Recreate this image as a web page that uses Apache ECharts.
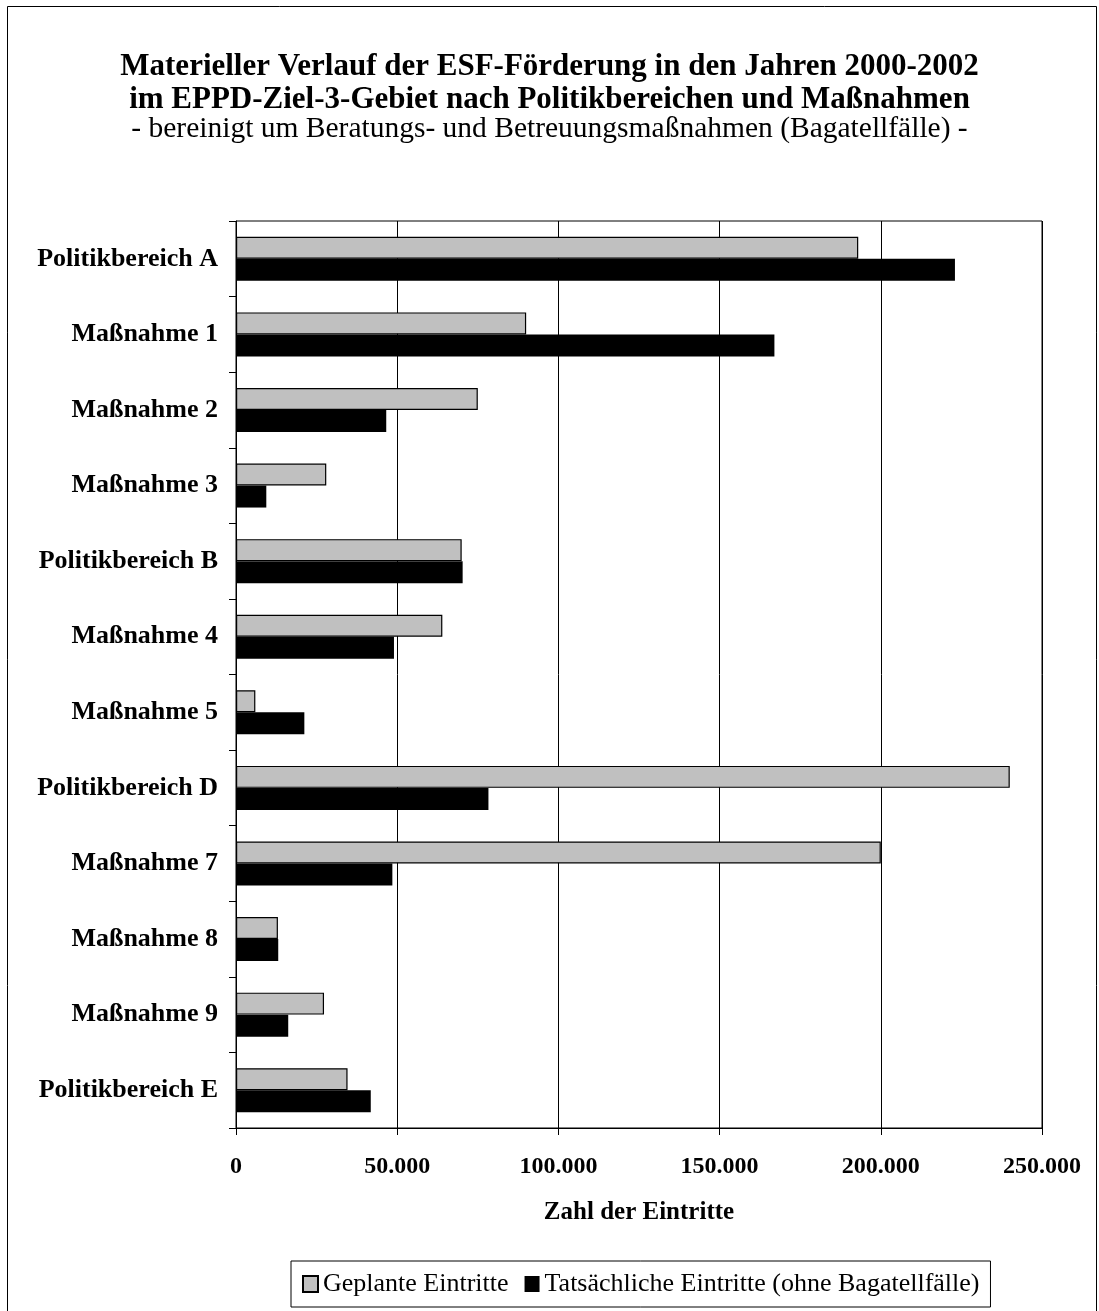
<!DOCTYPE html>
<html>
<head>
<meta charset="utf-8">
<script src="https://cdn.jsdelivr.net/npm/echarts@6/dist/echarts.min.js"></script>
<style>
html,body{margin:0;padding:0;background:#fff;}
#chart{width:1099px;height:1311px;}
</style>
</head>
<body>
<div id="chart"></div>
<script>
const categories = ['Politikbereich A','Maßnahme 1','Maßnahme 2','Maßnahme 3','Politikbereich B','Maßnahme 4','Maßnahme 5','Politikbereich D','Maßnahme 7','Maßnahme 8','Maßnahme 9','Politikbereich E'];
const geplant = [193000, 90000, 75000, 28000, 70000, 64000, 6000, 240000, 200000, 13000, 27300, 34600];
const tatsaechlich = [223000, 167000, 46600, 9400, 70300, 49000, 21200, 78300, 48500, 13100, 16200, 41800];
const seriesNames = ['Geplante Eintritte', 'Tatsächliche Eintritte (ohne Bagatellfälle)'];
const xTicks = [0, 50000, 100000, 150000, 200000, 250000];

const FONT = "'Liberation Serif','Times New Roman',serif";
function fmt(v){ return String(v).replace(/\B(?=(\d{3})+(?!\d))/g, '.'); }

const chart = echarts.init(document.getElementById('chart'), null, {renderer:'canvas'});
chart.setOption({
  backgroundColor: '#fff',
  animation: false,
  graphic: [{
    type: 'rect', shape: {x: 7.5, y: 6.5, width: 1089, height: 1320},
    style: {fill: 'none', stroke: '#000', lineWidth: 1}, silent: true
  }],
  title: [
    {text: 'Materieller Verlauf der ESF-Förderung in den Jahren 2000-2002', left: 'center', top: 46,
     textStyle: {fontFamily: FONT, fontWeight: 'bold', fontSize: 31, color: '#000'}},
    {text: 'im EPPD-Ziel-3-Gebiet nach Politikbereichen und Maßnahmen', left: 'center', top: 79,
     textStyle: {fontFamily: FONT, fontWeight: 'bold', fontSize: 31, color: '#000'}},
    {text: '- bereinigt um Beratungs- und Betreuungsmaßnahmen (Bagatellfälle) -', left: 'center', top: 109,
     textStyle: {fontFamily: FONT, fontWeight: 'normal', fontSize: 29.5, color: '#000'}}
  ],
  legend: {
    data: seriesNames,
    left: 291, top: 1261,
    padding: [10, 11],
    itemWidth: 15, itemHeight: 16, itemGap: 16,
    borderColor: '#000', borderWidth: 1,
    icon: 'rect',
    textStyle: {fontFamily: FONT, fontSize: 26, color: '#000'}
  },
  grid: {left: 236, right: 57, top: 221, bottom: 183, show: true, borderColor: '#000', borderWidth: 1, containLabel: false},
  xAxis: {
    type: 'value', min: 0, max: 250000, interval: 50000,
    name: 'Zahl der Eintritte', nameLocation: 'middle', nameGap: 72,
    nameTextStyle: {fontFamily: FONT, fontWeight: 'bold', fontSize: 25, color: '#000'},
    axisLine: {show: true, lineStyle: {color: '#000', width: 1}},
    axisTick: {show: true, length: 7, lineStyle: {color: '#000'}},
    axisLabel: {fontFamily: FONT, fontWeight: 'bold', fontSize: 24, color: '#000', margin: 27,
      formatter: function(v){ return xTicks.indexOf(v) >= 0 ? fmt(v) : ''; }},
    splitLine: {show: true, lineStyle: {color: '#000', width: 1}}
  },
  yAxis: {
    type: 'category', data: categories, inverse: true,
    axisLine: {show: true, lineStyle: {color: '#000', width: 1}},
    axisTick: {show: true, length: 7, lineStyle: {color: '#000'}},
    axisLabel: {fontFamily: FONT, fontWeight: 'bold', fontSize: 26, color: '#000', margin: 18},
    splitLine: {show: false}
  },
  series: [
    {name: seriesNames[0], type: 'bar', data: geplant, barWidth: 22, barGap: '0%',
     itemStyle: {color: '#C0C0C0', borderColor: '#000', borderWidth: 1.2}},
    {name: seriesNames[1], type: 'bar', data: tatsaechlich, barWidth: 22, barGap: '0%',
     itemStyle: {color: '#000000', borderColor: '#000', borderWidth: 0}}
  ]
});
</script>
</body>
</html>
